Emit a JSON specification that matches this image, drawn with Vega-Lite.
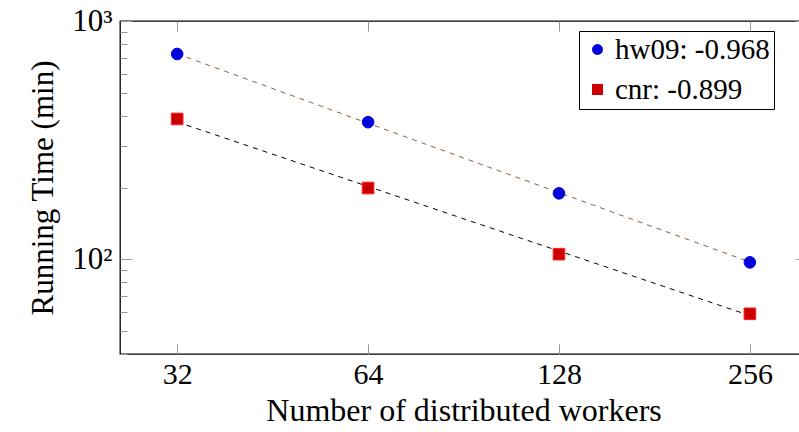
{
  "$schema": "https://vega.github.io/schema/vega-lite/v6.json",
  "width": 687,
  "height": 333,
  "padding": {"left": 27, "top": 5, "right": 0, "bottom": 0},
  "config": {
    "view": {"stroke": "black", "strokeWidth": 1.3},
    "font": "Liberation Serif",
    "axis": {"labelFont": "Liberation Serif", "titleFont": "Liberation Serif", "titleFontWeight": "normal", "labelColor": "black", "titleColor": "black", "domain": false, "grid": false, "tickColor": "#999999", "tickWidth": 1}
  },
  "datasets": {
    "pts": [
      {"workers": 32, "time": 727, "series": "hw09: -0.968"},
      {"workers": 64, "time": 376, "series": "hw09: -0.968"},
      {"workers": 128, "time": 189, "series": "hw09: -0.968"},
      {"workers": 256, "time": 97, "series": "hw09: -0.968"},
      {"workers": 32, "time": 388, "series": "cnr: -0.899"},
      {"workers": 64, "time": 199, "series": "cnr: -0.899"},
      {"workers": 128, "time": 105, "series": "cnr: -0.899"},
      {"workers": 256, "time": 59, "series": "cnr: -0.899"}
    ],
    "fit": [
      {"workers": 32, "time": 728, "series": "hw09"},
      {"workers": 256, "time": 97.3, "series": "hw09"},
      {"workers": 32, "time": 377, "series": "cnr"},
      {"workers": 256, "time": 58, "series": "cnr"}
    ]
  },
  "layer": [
    {
      "data": {"name": "fit"},
      "mark": {"type": "line", "strokeWidth": 1, "strokeDash": [5, 5]},
      "encoding": {
        "x": {"field": "workers", "type": "quantitative", "scale": {"type": "log", "base": 2, "domain": [26, 315], "nice": false},
          "axis": {"orient": "top", "values": [32, 64, 128, 256], "labels": false, "tickSize": -10, "title": null}},
        "y": {"field": "time", "type": "quantitative", "scale": {"type": "log", "domain": [40, 1000], "nice": false},
          "axis": {"orient": "right", "values": [40, 50, 60, 70, 80, 90, 100, 200, 300, 400, 500, 600, 700, 800, 900, 1000], "labels": false, "title": null,
            "tickSize": {"condition": {"test": "datum.value == 100 || datum.value == 1000", "value": -12}, "value": -7}}},
        "detail": {"field": "series"},
        "stroke": {"field": "series", "type": "nominal", "scale": {"domain": ["hw09", "cnr"], "range": ["#8b6040", "#000000"]}, "legend": null}
      }
    },
    {
      "data": {"name": "pts"},
      "mark": {"type": "point", "filled": true, "size": 135, "opacity": 1},
      "encoding": {
        "x": {"field": "workers", "type": "quantitative", "scale": {"type": "log", "base": 2, "domain": [26, 315], "nice": false},
          "axis": {"orient": "bottom", "values": [32, 64, 128, 256], "tickSize": -10, "labelFontSize": 30, "labelPadding": 15, "title": "Number of distributed workers", "titleFontSize": 32, "titlePadding": 6}},
        "y": {"field": "time", "type": "quantitative", "scale": {"type": "log", "domain": [40, 1000], "nice": false},
          "axis": {"orient": "left", "values": [40, 50, 60, 70, 80, 90, 100, 200, 300, 400, 500, 600, 700, 800, 900, 1000],
            "labelExpr": "datum.value == 100 ? '10²' : (datum.value == 1000 ? '10³' : '')",
            "tickSize": {"condition": {"test": "datum.value == 100 || datum.value == 1000", "value": -12}, "value": -7},
            "labelFontSize": 31, "labelPadding": 20, "title": "Running Time (min)", "titleFontSize": 31, "titlePadding": 12}},
        "color": {"field": "series", "type": "nominal", "scale": {"domain": ["hw09: -0.968", "cnr: -0.899"], "range": ["#0000dd", "#cc0000"]},
          "legend": {"orient": "none", "legendX": 459, "legendY": 10, "title": null, "strokeColor": "black", "fillColor": "white", "padding": 4, "labelFontSize": 29, "labelFont": "Liberation Serif", "labelColor": "black", "labelLimit": 400, "symbolSize": 120, "symbolStrokeWidth": 0, "rowPadding": 10, "labelOffset": 3}},
        "shape": {"field": "series", "type": "nominal", "scale": {"domain": ["hw09: -0.968", "cnr: -0.899"], "range": ["circle", "square"]}, "legend": null},
        "stroke": {"field": "series", "type": "nominal", "scale": {"domain": ["hw09: -0.968", "cnr: -0.899"], "range": ["#0000dd", "#ff2020"]}, "legend": null},
        "strokeWidth": {"value": 1}
      }
    }
  ],
  "resolve": {"axis": {"x": "independent", "y": "independent"}, "scale": {"stroke": "independent"}}
}
